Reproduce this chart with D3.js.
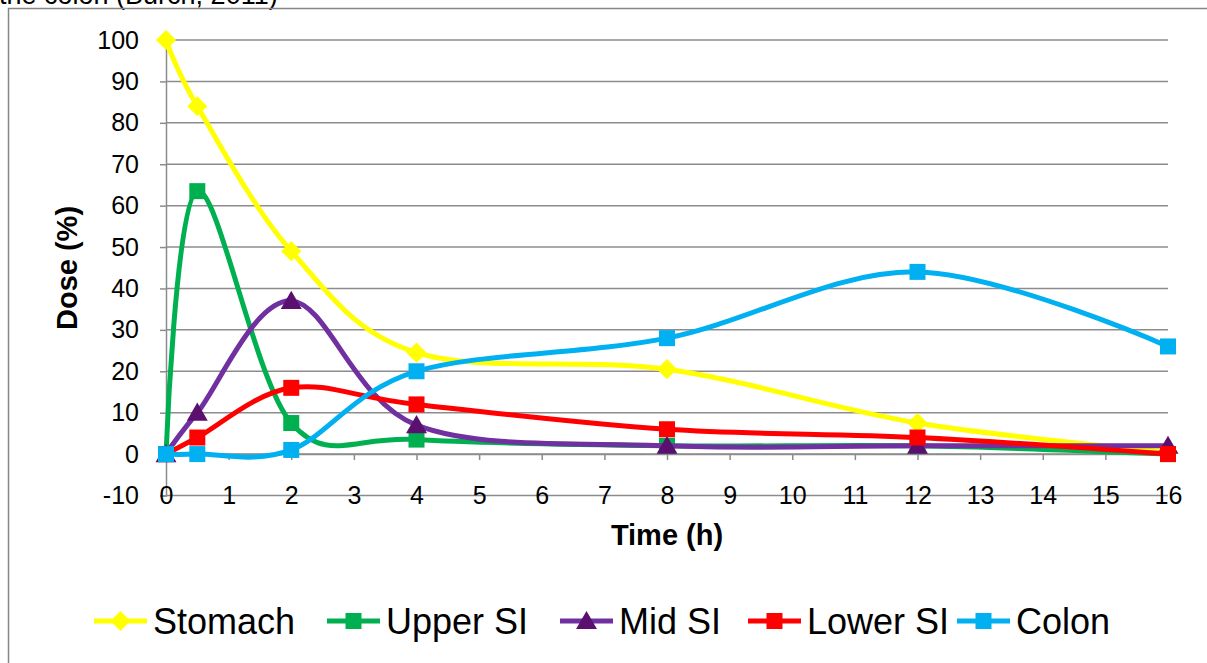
<!DOCTYPE html>
<html>
<head>
<meta charset="utf-8">
<script src="https://cdn.jsdelivr.net/npm/d3@7"></script>
<style>
  body { margin: 0; background: #fff; }
  text { font-family: "Liberation Sans", Arial, sans-serif; }
</style>
</head>
<body>
<div class="chart"></div>
<script>
var times = [0, 0.5, 2, 4, 8, 12, 16],
    stomach = [100, 84, 49, 24.5, 20.5, 7.5, 0.5],
    upperSI = [0, 63.5, 7.5, 3.5, 2, 2, 0],
    midSI = [0, 10, 37, 7, 2, 2, 2],
    lowerSI = [0, 4, 16, 12, 6, 4, 0],
    colon = [0, 0, 1, 20, 28, 44, 26],
    seriesNames = ["Stomach", "Upper SI", "Mid SI", "Lower SI", "Colon"],
    xTicks = d3.range(0, 17),
    yTicks = d3.range(-10, 101, 10);

var series = [
  {name: seriesNames[0], values: stomach, color: "#FFFF00", marker: "diamond"},
  {name: seriesNames[1], values: upperSI, color: "#00B050", marker: "square"},
  {name: seriesNames[2], values: midSI, color: "#7030A0", markerColor: "#5B0F6E", marker: "triangle"},
  {name: seriesNames[3], values: lowerSI, color: "#FF0000", marker: "square"},
  {name: seriesNames[4], values: colon, color: "#00B0F0", marker: "square"}
];

var W = 1207, H = 663,
    xScale = d3.scaleLinear().domain([0, 16]).range([166, 1168]),
    yScale = d3.scaleLinear().domain([-10, 100]).range([495.5, 40]),
    plainFormat = function(d) { return String(d); };

var svg = d3.select(".chart").append("svg")
    .attr("width", W)
    .attr("height", H);

// caption cut off at the top (as in the source image)
svg.append("text")
   .attr("x", -1)
   .attr("y", 4)
   .style("font-size", "27px")
   .style("fill", "#000")
   .text("the colon (Burch, 2011)");

// chart frame
svg.append("rect")
   .attr("x", 8.5).attr("y", 8.5)
   .attr("width", W + 10).attr("height", H + 10)
   .style("fill", "none")
   .style("stroke", "#868686")
   .style("stroke-width", 1.5);

// gridlines
svg.append("g").selectAll("line")
   .data(yTicks)
   .enter().append("line")
   .attr("x1", xScale(0)).attr("x2", xScale(16))
   .attr("y1", function(d) { return yScale(d); })
   .attr("y2", function(d) { return yScale(d); })
   .style("stroke", "#8c8c8c")
   .style("stroke-width", 1.5);

// y axis
var yAxis = d3.axisLeft(yScale).tickValues(yTicks).tickSize(6).tickPadding(21).tickFormat(plainFormat);
var gy = svg.append("g")
   .attr("transform", "translate(" + xScale(0) + ",0)")
   .call(yAxis);
gy.select(".domain").style("stroke", "#8c8c8c").style("stroke-width", 1.5);
gy.selectAll(".tick line").style("stroke", "#8c8c8c").style("stroke-width", 1.5);
gy.selectAll("text").style("font-size", "25px").style("fill", "#000")
   .style("font-family", "'Liberation Sans', Arial, sans-serif");

// x axis crossing at y = 0, labels down at the -10 row
var xAxis = d3.axisBottom(xScale).tickValues(xTicks).tickSize(6).tickPadding(0).tickFormat(plainFormat);
var gx = svg.append("g")
   .attr("transform", "translate(0," + yScale(0) + ")")
   .call(xAxis);
gx.select(".domain").style("stroke", "#8c8c8c").style("stroke-width", 1.5);
gx.selectAll(".tick line").style("stroke", "#8c8c8c").style("stroke-width", 1.5);
gx.selectAll("text")
   .attr("y", yScale(-10) - yScale(0))
   .attr("dy", "0.35em")
   .style("font-size", "25px").style("fill", "#000")
   .style("font-family", "'Liberation Sans', Arial, sans-serif");

// axis titles
svg.append("text")
   .attr("x", 667).attr("y", 545)
   .attr("text-anchor", "middle")
   .style("font-size", "29px").style("font-weight", "bold")
   .text("Time (h)");

svg.append("text")
   .attr("transform", "translate(77,268) rotate(-90)")
   .attr("text-anchor", "middle")
   .style("font-size", "29px").style("font-weight", "bold")
   .text("Dose (%)");

// markers
function markerPath(type) {
  if (type === "diamond") return d3.symbol().type(d3.symbolDiamond2).size(260)();
  if (type === "triangle") return d3.symbol().type(d3.symbolTriangle).size(190)();
  return "M-8,-8H8V8H-8Z";
}

var line = d3.line()
   .x(function(d) { return xScale(d.t); })
   .y(function(d) { return yScale(d.v); })
   .curve(d3.curveCardinal.tension(0));

series.forEach(function(s) {
  var pts = times.map(function(t, i) { return {t: t, v: s.values[i]}; });
  var g = svg.append("g");
  g.append("path")
   .datum(pts)
   .attr("d", line)
   .style("fill", "none")
   .style("stroke", s.color)
   .style("stroke-width", 5)
   .style("stroke-linejoin", "round");
  g.selectAll(".pt")
   .data(pts)
   .enter().append("path")
   .attr("class", "pt")
   .attr("d", markerPath(s.marker))
   .attr("transform", function(d) {
     var dy = s.marker === "triangle" ? 2 : 0;
     return "translate(" + xScale(d.t) + "," + (yScale(d.v) + dy) + ")";
   })
   .style("fill", s.markerColor || s.color);
});

// legend
var legendX = [94, 327, 560, 748, 957];
var legend = svg.append("g").selectAll("g")
   .data(series)
   .enter().append("g")
   .attr("transform", function(d, i) { return "translate(" + legendX[i] + ",621)"; });
legend.append("line")
   .attr("x1", 0).attr("x2", 53)
   .style("stroke", function(d) { return d.color; })
   .style("stroke-width", 5);
legend.append("path")
   .attr("d", function(d) { return markerPath(d.marker); })
   .attr("transform", function(d) { return "translate(26.5," + (d.marker === "triangle" ? 2 : 0) + ")"; })
   .style("fill", function(d) { return d.markerColor || d.color; });
legend.append("text")
   .attr("x", 59)
   .attr("dy", "0.35em")
   .style("font-size", "36px")
   .text(function(d) { return d.name; });
</script>
</body>
</html>
